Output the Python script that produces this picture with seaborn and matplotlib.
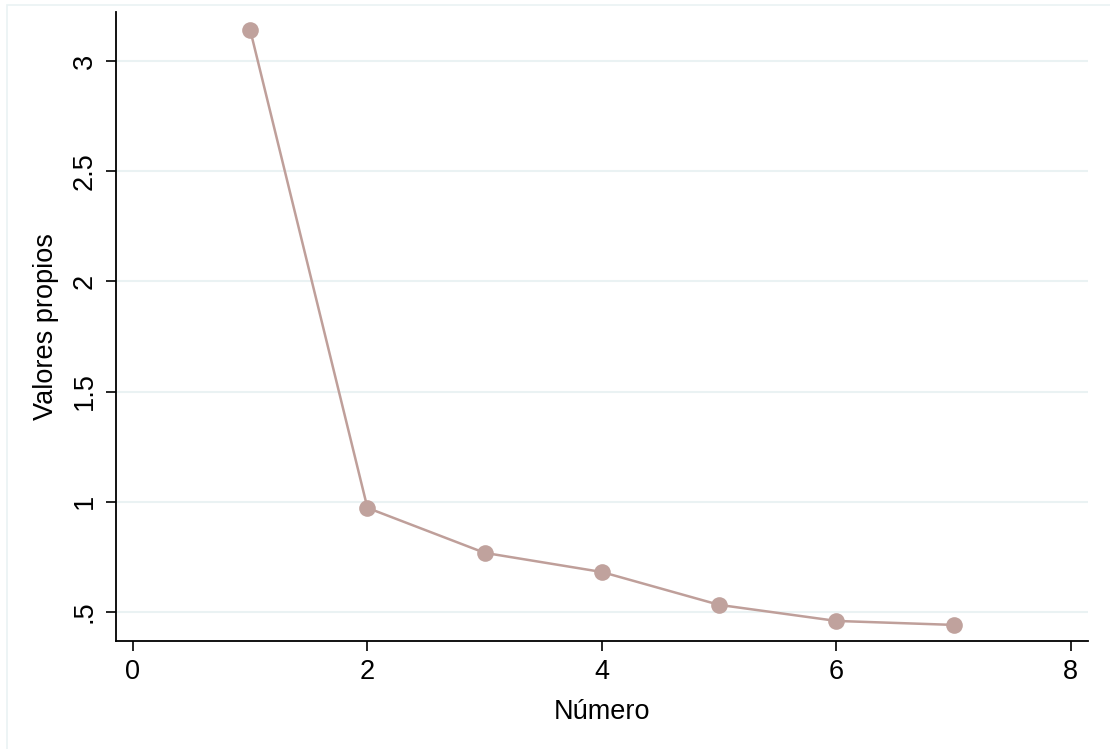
import matplotlib
matplotlib.use("Agg")
import matplotlib.pyplot as plt
import matplotlib.patches as patches
import seaborn as sns
import pandas as pd

# ── DATA ──────────────────────────────────────────────────────────────────────
numero = [1, 2, 3, 4, 5, 6, 7]
valores_propios = [3.14, 0.972, 0.768, 0.681, 0.532, 0.459, 0.441]
x_ticks = [0, 2, 4, 6, 8]
y_ticks = [0.5, 1, 1.5, 2, 2.5, 3]
y_tick_labels = [".5", "1", "1.5", "2", "2.5", "3"]
# ─────────────────────────────────────────────────────────────────────────────

df = pd.DataFrame({"Número": numero, "Valores propios": valores_propios})

sns.set_theme(style="white")
plt.rcParams["font.family"] = ["Liberation Sans", "DejaVu Sans"]

fig = plt.figure(figsize=(11.1, 7.49), dpi=100)
ax = fig.add_axes([0.1045, 0.1442, 0.8755, 0.8398])

# faint outer graph-region frame
fig.patches.append(patches.Rectangle((7 / 1110, -0.1), 1.2, 1.1 - 5 / 749,
                                     transform=fig.transFigure, fill=False,
                                     edgecolor="#eaf2f3", linewidth=1.2))

sns.lineplot(data=df, x="Número", y="Valores propios", ax=ax,
             color="#bf9f9a", linewidth=1.8, marker="o", markersize=12,
             markeredgewidth=0, markerfacecolor="#c0a29d")

ax.set_xlim(-0.145, 8.145)
ax.set_ylim(0.368, 3.222)
ax.set_xticks(x_ticks)
ax.set_xticklabels([str(t) for t in x_ticks])
ax.set_yticks(y_ticks)
ax.set_yticklabels(y_tick_labels, rotation=90, va="center")

ax.yaxis.grid(True, color="#eaf2f3", linewidth=1.5)
ax.xaxis.grid(False)
ax.set_axisbelow(True)

for side in ["top", "right"]:
    ax.spines[side].set_visible(False)
for side in ["left", "bottom"]:
    ax.spines[side].set_color("black")
    ax.spines[side].set_linewidth(1.3)

ax.tick_params(axis="both", direction="out", length=7, width=1.2,
               color="black", labelsize=19.5, labelcolor="black",
               left=True, bottom=True, pad=6)

ax.set_xlabel("Número", fontsize=19.5, color="black", labelpad=10)
ax.set_ylabel("Valores propios", fontsize=19.5, color="black", labelpad=9)

fig.savefig("out.png", dpi=100, facecolor="white")
